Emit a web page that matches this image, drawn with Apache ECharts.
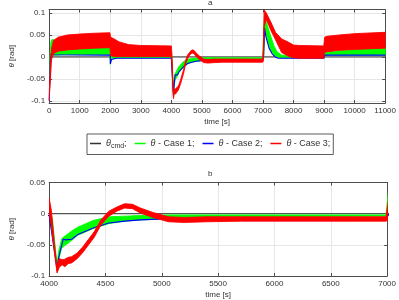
<!DOCTYPE html>
<html><head><meta charset="utf-8">
<script src="https://cdn.jsdelivr.net/npm/echarts@6/dist/echarts.min.js"></script>
<style>html,body{margin:0;padding:0;background:#fff}#c{width:399px;height:300px}</style>
</head><body><div id="c"></div>
<script>
// ---- data (time in s, theta in rad) ----
const tCmd = [0, 11000];
const vCmd = [0, 0];

// Case 1 (green) envelope of the oscillating response
const tG  = [0,30,60,100,180,230,500,1000,1990,2003, 2030,2200,3990,4000,4030,4070,4085,4112,4140,4200, 4250,4390,4530,4670,4810,5060,5500,6990,7020,7060, 7150,7260,7360,7460,7610,8990,9020,9200,10000,11000];
const gLo = [-0.1,-0.03,0.0,0.004,0.004,0.004,0.005,0.005,0.005,-0.017, -0.004,-0.002,-0.002,-0.001,-0.03,-0.092,-0.073,-0.055,-0.051,-0.043, -0.035,-0.024,-0.016,-0.012,-0.01,-0.008,-0.005,-0.004,0.0,0.06, 0.035,0.015,0.004,0.0,-0.002,-0.002,0.003,0.004,0.004,0.004];
const gHi = [-0.1,0.0,0.035,0.04,0.038,0.024,0.022,0.024,0.026,-0.003, 0.006,0.005,0.005,0.012,-0.01,-0.082,-0.06,-0.04,-0.036,-0.028, -0.022,-0.011,-0.005,-0.004,-0.003,-0.002,-0.002,-0.002,0.05,0.09, 0.07,0.046,0.025,0.012,0.004,0.004,0.01,0.012,0.017,0.02];

// Case 2 (blue)
const tB = [0,40,70,150,2000,2005,2040,2200,4000,4010, 4070,4085,4112,4125,4150,4200,4250,4390,4530,4670, 4810,5060,5500,6990,7020,7050,7100,7200,7300,7400, 7500,9000,9020,11000];
const vB = [-0.1,-0.01,0.008,0.005,0.004,-0.016,-0.006,-0.003,-0.003,0.0, -0.088,-0.07,-0.05,-0.041,-0.042,-0.041,-0.034,-0.023,-0.015,-0.012, -0.01,-0.008,-0.008,-0.008,0.0,0.065,0.045,0.02,0.007,0.0, -0.003,-0.003,0.004,0.004];

// Case 3 (red) envelope
const tR  = [0,40,80,150,300,600,1000,1500,1990,2010, 2100,2300,2600,3000,4000,4020,4045,4070,4090,4115, 4140,4170,4200,4250,4300,4350,4400,4460,4530,4600, 4670,4740,4810,4920,5060,5200,5400,5700,6990,7010, 7040,7110,7260,7410,7610,7820,8000,8200,8990,9020, 9100,9500,10000,11000];
const rLo = [-0.1,-0.05,-0.005,0.008,0.013,0.016,0.018,0.02,0.021,0.003, 0.001,0.001,0.001,0.001,0.001,-0.02,-0.06,-0.095,-0.086,-0.082, -0.085,-0.08,-0.079,-0.072,-0.062,-0.05,-0.038,-0.018,-0.004,0.004, 0.009,0.008,0.001,-0.006,-0.013,-0.014,-0.013,-0.012,-0.012,-0.01, 0.07,0.085,0.06,0.039,0.01,0.002,-0.002,-0.003,-0.003,0.01, 0.012,0.015,0.017,0.02];
const rHi = [-0.095,-0.02,0.02,0.038,0.045,0.05,0.052,0.054,0.055,0.045, 0.042,0.034,0.028,0.026,0.025,0.005,-0.045,-0.085,-0.072,-0.074, -0.073,-0.07,-0.069,-0.063,-0.053,-0.041,-0.029,-0.01,0.004,0.0105, 0.016,0.015,0.009,0.002,-0.005,-0.006,-0.005,-0.005,-0.005,0.02, 0.107,0.1,0.079,0.056,0.041,0.034,0.027,0.026,0.025,0.045, 0.047,0.05,0.053,0.056];

const legendNames = ['cmd', 'Case 1', 'Case 2', 'Case 3'];
const titles = ['a', 'b'];

// ---- chart ----
const FONT = 'Liberation Sans, Arial, sans-serif';
const TXT = '#333';
const AX = '#4d4d4d';
const GRIDC = '#e6e6e6';
const COLORS = { 'cmd': '#333333', 'Case 1': '#00ff00', 'Case 2': '#0000ff', 'Case 3': '#ff0000' };

function xAx(gi, min, max, interval, main) {
  return {
    type: 'value', gridIndex: gi, min: min, max: max, interval: interval,
    position: main ? 'bottom' : 'top',
    name: main ? 'time [s]' : '', nameLocation: 'middle', nameGap: 15,
    nameTextStyle: { fontFamily: FONT, fontSize: 8, color: TXT },
    axisLine: { show: true, onZero: false, lineStyle: { color: AX, width: 1 } },
    axisTick: { show: true, inside: true, length: 3, lineStyle: { color: AX } },
    axisLabel: { show: main, fontFamily: FONT, fontSize: 8, color: TXT, margin: 4,
      formatter: v => String(v) },
    splitLine: { show: main, lineStyle: { color: GRIDC, width: 1 } }
  };
}
function yAx(gi, min, max, interval, main) {
  const a = {
    type: 'value', gridIndex: gi, min: min, max: max,
    position: main ? 'left' : 'right',
    name: main ? '{i|θ} [rad]' : '', nameLocation: 'middle', nameGap: 22, nameRotate: 90,
    nameTextStyle: { fontFamily: FONT, fontSize: 8, color: TXT,
      rich: { i: { fontStyle: 'italic', fontFamily: FONT, fontSize: 8, color: TXT } } },
    axisLine: { show: true, onZero: false, lineStyle: { color: AX, width: 1 } },
    axisTick: { show: true, inside: true, length: 3, lineStyle: { color: AX } },
    axisLabel: { show: main, fontFamily: FONT, fontSize: 8, color: TXT, margin: 4,
      showMinLabel: false, showMaxLabel: false, formatter: v => String(+v.toFixed(4)) },
    splitLine: { show: main, lineStyle: { color: GRIDC, width: 1 } }
  };
  if (interval) { a.interval = interval; a.axisLabel.showMinLabel = true; a.axisLabel.showMaxLabel = true; }
  else { a.splitNumber = 5; }
  return a;
}

function pairs(t, v) { return t.map((x, i) => [x, v[i]]); }

// band drawn as one polygon (lower edge forward, upper edge back) through the axes' scales
function bandSeries(gi, name, t, lo, hi, color, z) {
  return {
    type: 'custom', name: name, xAxisIndex: gi * 2, yAxisIndex: gi * 2, z: z,
    data: t.map((x, i) => [x, lo[i], hi[i]]),
    encode: { x: 0, y: [1, 2] }, clip: true, silent: true,
    color: color, itemStyle: { color: color },
    renderItem: function (params, api) {
      if (params.dataIndexInside !== 0) return null;
      const n = params.dataInsideLength;
      const down = [], up = [];
      for (let j = 0; j < n; j++) {
        const x = api.value(0, j);
        down.push(api.coord([x, api.value(1, j)]));
        up.push(api.coord([x, api.value(2, j)]));
      }
      return {
        type: 'polygon',
        shape: { points: down.concat(up.reverse()) },
        style: { fill: color, stroke: color, lineWidth: 0.9 }
      };
    }
  };
}
function seriesFor(gi) {
  return [
    { type: 'line', name: legendNames[0], xAxisIndex: gi * 2, yAxisIndex: gi * 2, z: 2,
      data: pairs(tCmd, vCmd), symbol: 'none', silent: true, color: COLORS['cmd'],
      lineStyle: { color: '#555', width: 1.3 } },
    bandSeries(gi, legendNames[1], tG, gLo, gHi, COLORS['Case 1'], 3),
    { type: 'line', name: legendNames[2], xAxisIndex: gi * 2, yAxisIndex: gi * 2, z: 4,
      data: pairs(tB, vB), symbol: 'none', silent: true, color: COLORS['Case 2'],
      lineStyle: { color: COLORS['Case 2'], width: 1.1 } },
    bandSeries(gi, legendNames[3], tR, rLo, rHi, COLORS['Case 3'], 5)
  ];
}

const legendText = {
  'cmd': '{i|θ}{s|cmd};',
  'Case 1': '{i|θ} - Case 1;',
  'Case 2': '{i|θ} - Case 2;',
  'Case 3': '{i|θ} - Case 3;'
};

const option = {
  animation: false,
  backgroundColor: '#fff',
  grid: [
    { left: 33, right: 10, top: 9.5, height: 93.5 },
    { left: 33, right: 9, top: 182.5, height: 93.5 }
  ],
  xAxis: [
    xAx(0, 0, 11000, 1000, true), xAx(0, 0, 11000, 1000, false),
    xAx(1, 4000, 7000, 500, true), xAx(1, 4000, 7000, 500, false)
  ],
  yAxis: [
    yAx(0, -0.105, 0.108, null, true), yAx(0, -0.105, 0.108, null, false),
    yAx(1, -0.1, 0.05, 0.05, true), yAx(1, -0.1, 0.05, 0.05, false)
  ],
  legend: {
    left: 87, top: 134, orient: 'horizontal',
    data: legendNames.map(n => ({
      name: n, icon: 'rect',
      itemStyle: { color: COLORS[n], borderColor: COLORS[n], borderWidth: 0 },
      lineStyle: { color: COLORS[n], width: 0 }
    })),
    itemStyle: { borderWidth: 0 },
    itemWidth: 11, itemHeight: 1.5, itemGap: 8,
    padding: [5, 3, 5, 3], borderColor: '#333', borderWidth: 0.8, backgroundColor: '#fff',
    selectedMode: false,
    formatter: n => legendText[n],
    textStyle: { fontFamily: FONT, fontSize: 9, color: TXT,
      rich: {
        i: { fontStyle: 'italic', fontFamily: FONT, fontSize: 9, color: TXT },
        s: { fontFamily: FONT, fontSize: 7, color: TXT, padding: [5, 0, 0, 0] }
      } }
  },
  graphic: [
    { type: 'text', left: 208, top: -1, style: { text: titles[0], font: '8px ' + FONT, fill: TXT } },
    { type: 'text', left: 208, top: 170, style: { text: titles[1], font: '8px ' + FONT, fill: TXT } }
  ],
  series: [...seriesFor(0), ...seriesFor(1)]
};
const chart = echarts.init(document.getElementById('c'));
chart.setOption(option);
</script>
</body></html>
